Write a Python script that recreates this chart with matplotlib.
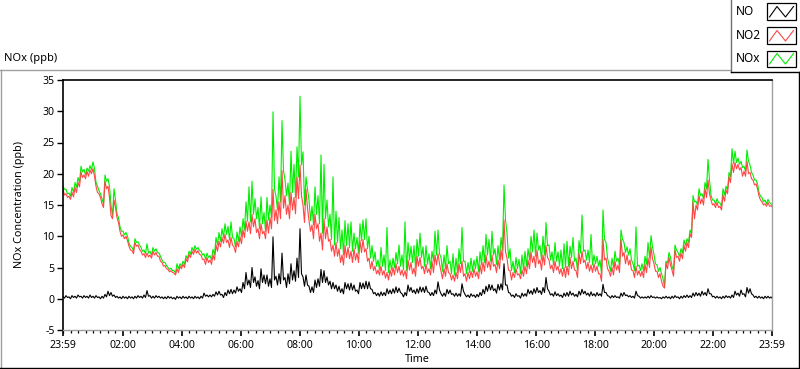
import numpy as np
import matplotlib
matplotlib.use("Agg")
import matplotlib.pyplot as plt
from matplotlib.lines import Line2D
from matplotlib.patches import Rectangle
from matplotlib.ticker import MultipleLocator, FixedLocator

plt.rcParams['font.family'] = ['Noto Sans', 'DejaVu Sans']
plt.rcParams['axes.unicode_minus'] = False

# ---------------- data ----------------
# upper edge of each ~6-minute column of the NO2 trace
no2 = [
    17.5, 16.8, 16.4, 17.0, 17.8, 18.6, 20.3, 19.8, 20.4, 20.6, 20.8, 18.0, 16.8, 15.2, 18.8, 18.0, 13.3,
    15.8, 13.0, 10.8, 10.2, 10.0, 8.4, 7.7, 9.0, 8.6, 7.6, 7.2, 7.3, 7.0, 7.6, 7.4, 6.8, 5.8,
    5.3, 4.7, 4.5, 4.1, 4.8, 5.2, 5.5, 6.4, 7.1, 7.6, 7.9, 7.7, 7.0, 6.3, 6.6, 6.2, 7.0, 8.6, 9.2,
    9.8, 10.3, 9.4, 9.8, 8.3, 9.2, 9.9, 11.0, 12.4, 12.3, 13.5, 12.8, 11.2, 12.0, 10.8,
    12.6, 13.0, 17.5, 14.2, 15.5, 20.5, 16.5, 15.0, 17.0, 16.2, 19.5, 21.4, 15.0, 17.5, 12.5, 11.8,
    13.5, 12.0, 10.5, 12.8, 11.5, 9.5, 8.6, 9.0, 8.0, 7.0, 8.5, 8.2, 7.6, 8.0, 7.3, 9.3, 9.5,
    8.0, 6.5, 6.0, 5.2, 4.6, 5.2, 4.5, 4.2, 4.6, 5.0, 5.6, 5.2, 4.6, 4.5, 6.2, 5.8, 4.9, 6.8, 6.6,
    5.2, 5.5, 4.8, 6.0, 7.0, 7.2, 4.4, 4.8, 5.6, 4.0, 3.8, 4.2, 5.6, 6.0,
    4.0, 4.2, 4.4, 4.8, 4.3, 5.4, 5.8, 7.0, 6.0, 7.0, 5.5, 6.2, 7.8, 12.6, 6.5, 4.5, 4.2, 4.8,
    4.0, 4.6, 5.2, 6.2, 7.5, 6.8, 7.8, 6.2, 7.0, 8.5, 6.2, 5.4, 6.0, 5.2, 4.8, 5.0,
    5.2, 6.6, 6.0, 4.5, 7.3, 7.6, 6.2, 5.8, 5.4, 5.6, 5.2, 4.0, 9.5, 6.5, 4.4, 5.0, 6.0, 5.4,
    9.5, 7.4, 7.0, 6.2, 4.5, 5.2, 4.5, 4.4, 5.5, 6.5, 8.3, 5.6, 4.4, 4.0, 2.0,
    5.7, 6.6, 4.6, 7.8, 6.8, 7.3, 8.5, 9.0, 10.4, 15.5, 15.0, 16.5, 16.0, 17.6, 19.0, 15.8, 15.2,
    15.4, 14.8, 16.6, 17.4, 19.5, 21.6, 21.8, 21.5, 21.0, 20.4, 22.0, 20.2, 19.0, 18.4, 16.4,
    15.5, 15.2, 15.4, 14.9,
]
# lower edge of the same NO2 columns
no2_lo = [
    16.6, 16.2, 15.9, 16.3, 17.0, 17.9, 19.4, 19.2, 19.6, 20.0, 19.6, 17.0, 16.2, 14.6, 17.6, 16.2, 12.8,
    14.6, 12.2, 10.0, 9.6, 9.3, 7.8, 7.2, 8.4, 7.9, 7.0, 6.6, 6.7, 6.5, 7.0, 6.8, 6.0, 5.2,
    4.8, 4.3, 4.2, 3.8, 4.2, 4.8, 5.0, 5.9, 6.6, 7.1, 7.3, 7.1, 6.3, 5.5, 5.8, 5.5, 6.2, 7.6, 8.3, 8.9,
    9.0, 8.2, 8.6, 7.4, 8.3, 8.8, 9.8, 10.8, 10.4, 11.5, 10.6, 9.6, 10.4, 9.6,
    10.5, 11.2, 12.5, 12.0, 12.8, 14.5, 13.5, 12.8, 14.2, 13.6, 16.0, 16.5, 12.2, 14.5, 10.8, 9.6,
    11.2, 9.2, 7.8, 9.6, 9.2, 7.6, 6.8, 6.8, 5.8, 5.4, 6.6, 6.4, 5.8, 6.2, 5.8, 7.4, 7.5,
    6.0, 4.8, 4.5, 4.0, 3.8, 3.8, 3.3, 3.0, 3.6, 3.8, 4.2, 3.8, 3.6, 3.2, 4.6, 4.0, 3.6, 5.2, 4.8,
    4.0, 4.2, 3.8, 4.2, 5.4, 5.6, 3.2, 3.6, 4.2, 3.0, 2.8, 3.2, 4.2, 3.6,
    2.8, 3.2, 3.4, 3.6, 3.2, 4.0, 4.4, 5.0, 4.6, 5.2, 4.2, 4.8, 6.2, 7.5, 4.6, 3.0, 3.4, 3.8,
    3.2, 3.6, 4.0, 4.8, 5.8, 5.0, 5.6, 4.6, 5.4, 6.6, 4.8, 4.2, 4.6, 4.0, 3.6, 3.4,
    3.8, 4.8, 4.6, 3.4, 5.6, 5.8, 4.8, 4.4, 4.2, 4.4, 4.0, 2.8, 6.2, 4.8, 3.6, 3.8, 4.6, 4.2,
    6.8, 5.6, 5.4, 4.6, 3.4, 3.8, 3.6, 3.4, 4.2, 5.0, 6.4, 4.4, 3.4, 2.8, 1.7,
    4.8, 5.4, 3.6, 6.6, 6.0, 6.4, 7.6, 8.2, 9.8, 12.8, 14.2, 15.2, 15.0, 16.2, 16.8, 15.0, 14.6,
    14.6, 14.2, 15.6, 16.8, 18.6, 20.2, 20.8, 20.6, 19.6, 19.6, 20.0, 19.2, 18.2, 17.6, 15.8,
    15.0, 14.8, 14.8, 14.6,
]
# upper edge of the NOx trace (its lower edge sits on the NO2 trace)
nox = [
    18.0, 17.5, 16.9, 17.8, 18.6, 19.4, 21.2, 20.7, 20.9, 21.3, 21.9, 18.6, 17.3, 16.0, 19.8, 19.2, 15.0,
    17.6, 13.6, 11.5, 10.8, 10.6, 8.9, 8.2, 9.6, 9.1, 8.2, 7.8, 8.8, 7.6, 8.2, 8.0, 7.3, 6.2,
    5.8, 5.0, 4.9, 4.5, 5.6, 5.6, 6.0, 6.9, 7.6, 8.2, 8.5, 8.2, 7.6, 7.2, 7.3, 6.9, 7.9, 9.8, 10.6,
    11.2, 12.0, 11.6, 12.3, 9.6, 10.7, 11.5, 12.8, 15.5, 17.9, 18.8, 16.0, 14.6, 16.3, 13.8,
    16.2, 15.0, 29.9, 16.4, 19.5, 28.5, 19.0, 18.5, 23.6, 21.5, 24.3, 32.4, 23.5, 19.5, 15.8, 14.8,
    17.9, 16.5, 23.0, 21.5, 15.8, 13.5, 19.5, 14.0, 13.0, 11.0, 12.5, 12.0, 12.3, 10.5, 9.8, 12.0, 12.6,
    12.8, 10.0, 8.5, 7.5, 6.2, 8.2, 7.0, 11.4, 6.2, 6.5, 7.4, 8.6, 7.0, 12.3, 9.0, 8.4, 8.5, 9.5, 10.5,
    8.3, 8.5, 7.2, 7.6, 10.8, 11.0, 6.6, 7.0, 8.5, 6.0, 7.2, 6.5, 8.0, 11.4,
    6.0, 5.8, 6.5, 6.2, 6.8, 7.5, 8.5, 10.3, 9.5, 10.8, 8.0, 8.5, 9.8, 18.2, 10.5, 8.0, 6.0, 6.6,
    6.3, 7.0, 7.6, 8.0, 10.0, 11.0, 10.5, 8.5, 10.0, 12.2, 8.6, 7.5, 9.0, 7.5, 7.8, 8.8,
    9.2, 8.4, 9.8, 6.5, 9.3, 13.4, 7.8, 7.8, 10.3, 7.0, 6.8, 6.2, 14.2, 9.0, 5.4, 6.5, 7.6, 6.5,
    11.0, 9.0, 8.3, 8.0, 5.6, 11.5, 5.4, 5.6, 6.8, 9.0, 10.1, 7.0, 5.4, 5.0, 3.2,
    6.0, 7.4, 5.2, 8.6, 7.4, 8.0, 9.4, 9.6, 11.0, 16.5, 15.6, 17.6, 16.8, 18.6, 22.3, 16.6, 15.8,
    16.0, 15.3, 17.6, 18.0, 20.2, 24.0, 23.6, 22.5, 22.0, 21.2, 23.8, 21.4, 19.8, 19.0, 17.0,
    16.2, 15.8, 15.9, 15.2,
]
# upper / lower edge of the NO trace
no = [
    0.4, 0.5, 0.3, 0.5, 0.4, 0.6, 0.4, 0.5, 0.4, 0.6, 0.4, 0.5, 0.3, 0.4, 0.7, 1.2, 1.0,
    0.6, 0.4, 0.3, 0.4, 0.3, 0.4, 0.3, 0.4, 0.5, 0.4, 0.6, 1.3, 0.5, 0.4, 0.5, 0.4, 0.3,
    0.3, 0.4, 0.3, 0.2, 0.4, 0.3, 0.4, 0.3, 0.4, 0.3, 0.4, 0.3, 0.4, 0.9, 0.6, 0.6, 0.7, 1.1, 1.2,
    0.7, 1.0, 1.4, 1.5, 1.4, 1.9, 1.6, 2.6, 4.2, 3.0, 5.0, 3.5, 2.9, 4.8, 3.8,
    3.8, 3.2, 9.9, 3.6, 4.0, 7.3, 3.4, 4.0, 5.6, 4.5, 6.5, 11.2, 3.5, 3.8, 2.0, 1.9,
    3.0, 3.2, 4.7, 4.5, 3.5, 2.8, 2.6, 2.2, 2.0, 1.6, 2.6, 2.4, 2.5, 2.2, 1.4, 2.6, 2.5,
    2.8, 2.7, 1.5, 1.0, 0.9, 1.1, 1.0, 1.6, 1.4, 1.6, 1.9, 1.7, 0.8, 1.0, 2.2, 1.8, 1.4, 1.6, 1.9,
    1.8, 2.0, 1.0, 1.0, 1.4, 2.7, 0.8, 0.9, 1.5, 1.4, 0.8, 0.9, 0.8, 2.4,
    0.7, 0.6, 0.8, 0.6, 0.7, 1.0, 1.5, 2.0, 2.3, 2.2, 1.6, 2.3, 2.4, 5.6, 2.2, 0.9, 0.6, 0.8,
    0.5, 0.9, 0.8, 1.5, 1.3, 1.6, 1.8, 1.3, 1.8, 3.4, 1.2, 0.8, 1.1, 0.8, 0.6, 0.9,
    1.0, 1.2, 0.9, 0.7, 1.2, 1.5, 1.2, 0.9, 1.1, 0.8, 1.0, 0.8, 2.3, 1.0, 0.4, 0.5, 0.5, 0.3,
    0.9, 1.0, 0.6, 0.5, 0.4, 1.2, 0.4, 0.3, 0.3, 0.4, 0.5, 0.3, 0.3, 0.2, 0.3,
    0.4, 0.3, 0.4, 0.5, 0.3, 0.4, 0.5, 0.6, 0.5, 0.9, 1.0, 0.9, 1.2, 1.0, 1.6, 0.8, 0.4,
    0.4, 0.3, 0.4, 0.5, 0.4, 0.6, 1.2, 0.9, 1.4, 0.8, 1.8, 1.6, 0.6, 0.4, 0.4,
    0.3, 0.4, 0.4, 0.3,
]
no_lo = [
    0.1, 0.2, 0.0, 0.2, 0.1, 0.3, 0.1, 0.2, 0.1, 0.2, 0.1, 0.2, 0.0, 0.1, 0.3, 0.5, 0.4,
    0.2, 0.1, 0.0, 0.1, 0.0, 0.1, 0.0, 0.1, 0.2, 0.1, 0.2, 0.4, 0.1, 0.1, 0.2, 0.1, 0.0,
    0.0, 0.1, 0.0, -0.1, 0.1, 0.0, 0.1, 0.0, 0.1, 0.0, 0.1, 0.0, 0.1, 0.4, 0.3, 0.3, 0.4, 0.6, 0.6,
    0.2, 0.5, 0.8, 0.8, 0.9, 1.2, 1.0, 1.6, 2.2, 1.8, 2.6, 2.0, 1.6, 2.6, 2.4,
    2.0, 1.8, 3.0, 2.2, 2.4, 3.0, 1.8, 2.4, 3.0, 2.8, 3.4, 4.0, 2.0, 2.2, 1.0, 1.0,
    1.8, 2.0, 2.6, 2.6, 2.2, 1.6, 1.6, 1.2, 1.0, 0.8, 1.6, 1.4, 1.4, 1.2, 0.8, 1.6, 1.6,
    1.6, 1.6, 0.8, 0.5, 0.4, 0.5, 0.5, 0.8, 0.8, 0.9, 1.0, 1.0, 0.3, 0.5, 1.2, 1.0, 0.8, 0.9, 1.1,
    1.0, 1.1, 0.5, 0.5, 0.8, 1.4, 0.4, 0.4, 0.8, 0.7, 0.4, 0.4, 0.4, 1.2,
    0.3, 0.2, 0.4, 0.2, 0.3, 0.5, 0.8, 1.2, 1.4, 1.3, 0.9, 1.4, 1.4, 2.2, 1.0, 0.4, 0.2, 0.4,
    0.1, 0.4, 0.4, 0.8, 0.7, 0.9, 1.0, 0.7, 1.0, 1.6, 0.6, 0.4, 0.5, 0.4, 0.2, 0.4,
    0.4, 0.6, 0.4, 0.3, 0.6, 0.8, 0.6, 0.4, 0.5, 0.4, 0.5, 0.4, 1.0, 0.5, 0.1, 0.2, 0.2, 0.1,
    0.4, 0.5, 0.3, 0.2, 0.1, 0.5, 0.1, 0.1, 0.1, 0.1, 0.2, 0.1, 0.1, 0.0, 0.1,
    0.1, 0.0, 0.1, 0.2, 0.0, 0.1, 0.2, 0.2, 0.2, 0.4, 0.5, 0.4, 0.6, 0.5, 0.8, 0.3, 0.1,
    0.1, 0.0, 0.1, 0.2, 0.1, 0.2, 0.6, 0.4, 0.7, 0.3, 0.9, 0.8, 0.2, 0.1, 0.1,
    0.0, 0.1, 0.1, 0.0,
]
series_names = ["NO", "NO2", "NOx"]
tick_minutes = [-1, 120, 240, 360, 480, 600, 720, 840, 960, 1080, 1200, 1320, 1439]
tick_labels = ["23:59", "02:00", "04:00", "06:00", "08:00", "10:00", "12:00",
               "14:00", "16:00", "18:00", "20:00", "22:00", "23:59"]
y_ticks = [-5, 0, 5, 10, 15, 20, 25, 30, 35]

# column times (minutes after 00:00; the record starts at 23:59 of the previous day)
t = np.linspace(-1, 1437, len(no2))
dt = t[1] - t[0]


def column_trace(hi, lo):
    """Alternate between the upper and lower edge of each column."""
    hi = np.asarray(hi, float)
    lo = np.asarray(lo, float)
    xs = np.empty(2 * len(hi))
    ys = np.empty(2 * len(hi))
    xs[0::2] = t
    xs[1::2] = t + dt / 2
    ys[0::2] = hi
    ys[1::2] = lo
    return xs, ys


# ---------------- figure ----------------
W, H = 800, 369
fig = plt.figure(figsize=(W / 100, H / 100), dpi=100)
fig.patch.set_facecolor("white")


def fx(px):
    return px / W


def fy(py):
    return 1 - py / H


ax = fig.add_axes([fx(63), fy(330), fx(772) - fx(63), fy(80) - fy(330)])

RED = "#ff4545"
GREEN = "#00ee00"
lw = 0.8
gx, gy = column_trace(nox, no2)
rx, ry = column_trace(no2, no2_lo)
bx, by = column_trace(no, no_lo)
ax.plot(gx, gy, color=GREEN, lw=lw)
ax.plot(rx, ry, color=RED, lw=lw)
ax.plot(bx, by, color="black", lw=lw)

ax.set_xlim(-1, 1439)
ax.set_ylim(-5, 35)

ax.xaxis.set_major_locator(FixedLocator(tick_minutes))
ax.set_xticklabels(tick_labels)
ax.xaxis.set_minor_locator(MultipleLocator(15))
ax.set_yticks(y_ticks)

ax.tick_params(axis="both", which="major", labelsize=7.6, colors="black",
               length=4, width=1, direction="out", pad=2)
ax.tick_params(axis="x", which="minor", length=2.2, width=0.9, direction="out")
ax.tick_params(axis="x", which="major", length=4.5, width=1.2, pad=3)

for s in ("top", "left"):
    ax.spines[s].set_color("black")
    ax.spines[s].set_linewidth(1.2)
for s in ("bottom", "right"):
    ax.spines[s].set_color("#a0a0a0")
    ax.spines[s].set_linewidth(1.0)

# texts
fig.text(fx(4), fy(58), "NOx (ppb)", fontsize=8, ha="left", va="center")
fig.text(fx(20), fy(205), "NOx Concentration (ppb)", fontsize=7.8,
         ha="center", va="center", rotation=90)
fig.text(fx(417), fy(360), "Time", fontsize=7.8, ha="center", va="center")

# outer frame (grey top/left, black right/bottom)
fig.add_artist(Line2D([fx(0), fx(730)], [fy(69.5), fy(69.5)], color="#a0a0a0", lw=1.0))
fig.add_artist(Line2D([fx(1), fx(1)], [fy(69.5), fy(367)], color="#a0a0a0", lw=1.0))
fig.add_artist(Line2D([fx(0), fx(798.5)], [fy(367.5), fy(367.5)], color="black", lw=1.0))
fig.add_artist(Line2D([fx(798.5), fx(798.5)], [fy(72), fy(367.5)], color="black", lw=1.0))

# legend box
fig.add_artist(Line2D([fx(730.5), fx(730.5)], [fy(0), fy(72)], color="#707070", lw=1.0))
fig.add_artist(Line2D([fx(730.5), fx(800)], [fy(72), fy(72)], color="black", lw=1.0))
colors = ["black", RED, GREEN]
rows_y = [11.5, 35.5, 58.5]
for name, c, yc in zip(series_names, colors, rows_y):
    fig.text(fx(736), fy(yc), name, fontsize=8.5, ha="left", va="center")
    bx0, bx1 = 767, 796
    by0, by1 = yc - 8, yc + 8
    fig.add_artist(Rectangle((fx(bx0), fy(by1)), fx(bx1) - fx(bx0), fy(by0) - fy(by1),
                             facecolor="white", edgecolor="black", lw=0.9))
    xs = [bx0 + 2.5, bx0 + 10, bx0 + 18.5, bx0 + 26.5]
    ys = [by1 - 2.5, by0 + 3, by1 - 2.5, by0 + 3]
    fig.add_artist(Line2D([fx(v) for v in xs], [fy(v) for v in ys], color=c, lw=0.8))

fig.savefig("out.png", dpi=100, facecolor="white")
